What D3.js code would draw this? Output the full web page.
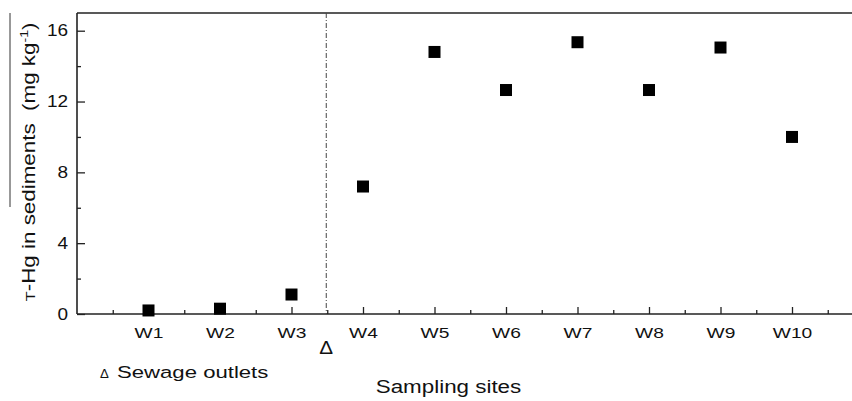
<!DOCTYPE html>
<html>
<head>
<meta charset="utf-8">
<script src="https://cdn.jsdelivr.net/npm/d3@7"></script>
<style>
  body { margin: 0; background: #fff; }
  svg { display: block; font-family: "Liberation Sans", Arial, sans-serif; }
</style>
</head>
<body>
<svg id="chart" width="852" height="401"></svg>
<script>
var sites = ["W1", "W2", "W3", "W4", "W5", "W6", "W7", "W8", "W9", "W10"];
var thg = [0.2, 0.3, 1.1, 7.2, 14.8, 12.65, 15.35, 12.65, 15.05, 10.0];
var yTicks = [0, 4, 8, 12, 16];
var outletPos = 3.5; // sewage outlet between W3 and W4

var svg = d3.select("#chart");
var plotL = 77, plotT = 13, plotB = 314, plotR = 863.5;
var sx = 1.28; // text in the scan is stretched sideways

var x = d3.scaleLinear().domain([0, 11]).range([plotL, plotR]);
var y = d3.scaleLinear().domain([0, 17]).range([plotB, plotT]);

var data = sites.map(function(s, i){ return {site: s, i: i + 1, v: thg[i]}; });

// y axis, ticks pointing inside
var yAxis = d3.axisLeft(y).tickValues(yTicks).tickSize(-8).tickPadding(9).tickFormat(d3.format("d"));
var gy = svg.append("g").attr("transform", "translate(" + plotL + ",0)").call(yAxis);
gy.select(".domain").remove();
gy.selectAll("line").attr("stroke", "#222").attr("stroke-width", 1.3);
gy.selectAll("text")
  .attr("font-size", 16.5).attr("fill", "#111").attr("font-family", "Liberation Sans, Arial, sans-serif")
  .attr("x", -9 / 1.15).attr("transform", "scale(1.15,1)");

// y minor ticks
var gym = svg.append("g").attr("transform", "translate(" + plotL + ",0)")
  .call(d3.axisLeft(y).tickValues([2, 6, 10, 14]).tickSize(-4).tickFormat(""));
gym.select(".domain").remove();
gym.selectAll("line").attr("stroke", "#222").attr("stroke-width", 1.3);

// x axis, ticks pointing inside
var xAxis = d3.axisBottom(x).tickValues(d3.range(1, 11)).tickSize(-7).tickPadding(13)
  .tickFormat(function(d){ return sites[d - 1]; });
var gx = svg.append("g").attr("transform", "translate(0," + plotB + ")").call(xAxis);
gx.select(".domain").remove();
gx.selectAll("line").attr("stroke", "#222").attr("stroke-width", 1.3);
gx.selectAll("text")
  .attr("font-size", 15).attr("fill", "#111").attr("font-family", "Liberation Sans, Arial, sans-serif")
  .attr("transform", "scale(" + sx + ",1)");

var gxm = svg.append("g").attr("transform", "translate(0," + plotB + ")")
  .call(d3.axisBottom(x).tickValues(d3.range(0.5, 11, 1)).tickSize(-4).tickFormat(""));
gxm.select(".domain").remove();
gxm.selectAll("line").attr("stroke", "#222").attr("stroke-width", 1.3);

// frame: left, bottom and top
svg.append("line").attr("x1", plotL).attr("x2", plotL).attr("y1", plotT).attr("y2", plotB)
  .attr("stroke", "#222").attr("stroke-width", 1.6);
svg.append("line").attr("x1", plotL).attr("x2", 852).attr("y1", plotB).attr("y2", plotB)
  .attr("stroke", "#222").attr("stroke-width", 1.6);
svg.append("line").attr("x1", plotL).attr("x2", 852).attr("y1", plotT).attr("y2", plotT)
  .attr("stroke", "#222").attr("stroke-width", 1.6);

// dash-dot divider
svg.append("line")
  .attr("x1", x(outletPos) - 1).attr("x2", x(outletPos) - 1)
  .attr("y1", plotT).attr("y2", plotB)
  .attr("stroke", "#444").attr("stroke-width", 1)
  .attr("stroke-dasharray", "5,2,1,2");

// markers
var sz = 12;
svg.selectAll(".pt")
  .data(data)
  .enter().append("rect")
  .attr("class", "pt")
  .attr("x", function(d){ return x(d.i) - sz / 2; })
  .attr("y", function(d){ return y(d.v) - sz / 2; })
  .attr("width", sz).attr("height", sz)
  .attr("fill", "#000");

// outlet marker under axis
svg.append("text")
  .attr("transform", "translate(" + (x(outletPos) - 1) + ",354) scale(1.15,1)")
  .attr("text-anchor", "middle")
  .attr("font-size", 18).attr("fill", "#111")
  .text("\u0394");

// legend note
svg.append("text").attr("transform", "translate(100,378) scale(1.1,1)")
  .attr("font-size", 12).attr("fill", "#111").text("\u0394");
svg.append("text").attr("transform", "translate(117,378) scale(" + sx + ",1)")
  .attr("font-size", 17.3).attr("fill", "#111").text("Sewage outlets");

// axis titles
svg.append("text")
  .attr("transform", "translate(448.5,393) scale(" + sx + ",1)")
  .attr("text-anchor", "middle")
  .attr("font-size", 17.5).attr("fill", "#111")
  .text("Sampling sites");

var yt = svg.append("text")
  .attr("transform", "translate(35,162) rotate(-90) scale(" + sx + ",1)")
  .attr("text-anchor", "middle")
  .attr("font-size", 17.5).attr("fill", "#111");
yt.append("tspan").attr("font-size", 13).text("T");
yt.append("tspan").text("-Hg in sediments\u00a0\u00a0(mg kg");
yt.append("tspan").attr("font-size", 11).attr("dy", -7).text("-1");
yt.append("tspan").attr("dy", 7).text(")");

// stray rule along the y title
svg.append("line").attr("x1", 10).attr("x2", 10).attr("y1", 13).attr("y2", 207)
  .attr("stroke", "#333").attr("stroke-width", 1);
</script>
</body>
</html>
